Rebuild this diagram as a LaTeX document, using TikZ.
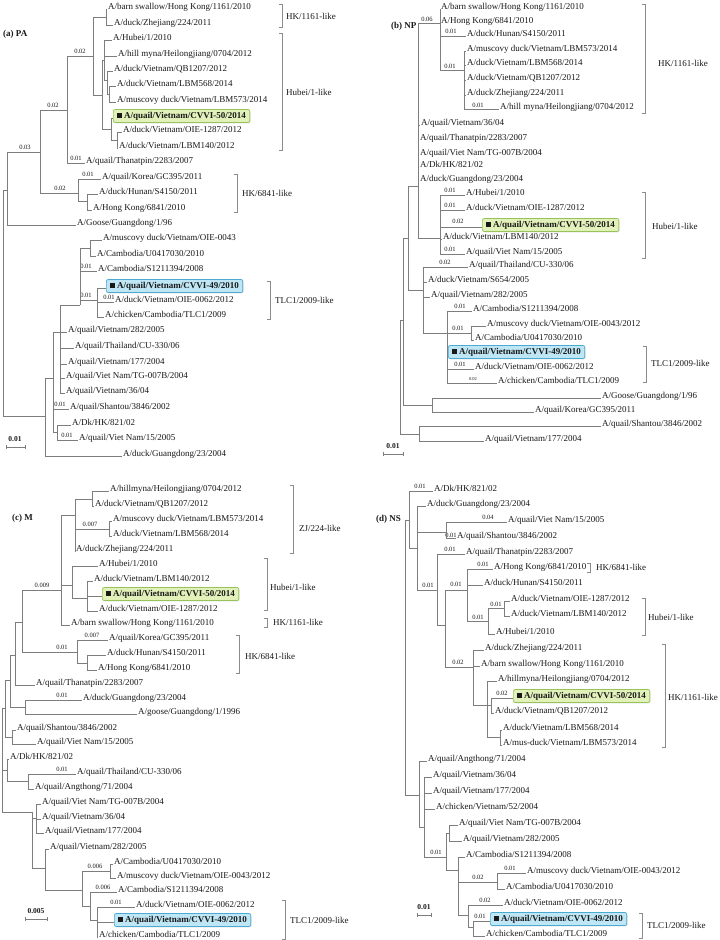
\documentclass[tikz,border=0pt]{standalone}
\usepackage{fontspec}
\setmainfont{Liberation Serif}
\usetikzlibrary{shadows}
\definecolor{brc}{RGB}{125,125,125}
\definecolor{bkc}{RGB}{140,140,140}
\definecolor{txt}{RGB}{25,25,25}
\definecolor{gfill}{RGB}{226,241,186}
\definecolor{gline}{RGB}{150,196,90}
\definecolor{bfill}{RGB}{190,230,245}
\definecolor{bline}{RGB}{75,170,210}
\newcounter{nn}
\newcommand\Lf[4]{\draw[br] (#1,#3)--(#2-0.6,#3); \stepcounter{nn}\node[lf] (n\arabic{nn}) at (#2,#3) {#4};}
\newcommand\Vl[3]{\draw[br] (#1,#2)--(#1,#3);}
\newcommand\Hl[3]{\draw[br] (#1,#3)--(#2,#3);}
\newcommand\Bl[3]{\stepcounter{nn}\node[bl] (n\arabic{nn}) at (#1,#2) {#3};}
\newcommand\Bk[6]{\draw[bk] (#1-3,#2)--(#1,#2)--(#1,#3)--(#1-3,#3); \stepcounter{nn}\node[bkl] (n\arabic{nn}) at (#4,#5) {#6};}
\newcommand\Bx[5]{\draw[br] (#1,#3)--(#2,#3); \stepcounter{nn}\node[#5] (n\arabic{nn}) at (#2,#3-2) {\raisebox{0.3pt}{\rule{4.5pt}{4.5pt}}\ #4};}
\newcommand\Sc[5]{\stepcounter{nn}\node[scl] (n\arabic{nn}) at (#1,#2) {#3}; \draw[br] (#4,#2+8)--(#5,#2+8); \draw[br] (#4,#2+6)--(#4,#2+10); \draw[br] (#5,#2+6)--(#5,#2+10);}
\tikzset{
 br/.style={draw=brc, line width=0.6pt},
 bk/.style={draw=bkc, line width=0.6pt},
 lf/.style={anchor=base west, inner sep=0pt, font=\fontsize{9}{10}\selectfont, text=txt},
 bl/.style={inner sep=0pt, font=\fontsize{6.5}{7}\selectfont, text=txt},
 blt/.style={inner sep=0pt, font=\fontsize{4.5}{5}\selectfont, text=txt},
 pl/.style={anchor=base west, inner sep=0pt, font=\bfseries\fontsize{9}{10}\selectfont, text=txt},
 scl/.style={inner sep=0pt, font=\bfseries\fontsize{7.5}{8}\selectfont, text=txt},
 bkl/.style={anchor=west, inner sep=0pt, font=\fontsize{9}{10}\selectfont, text=txt},
 gbox/.style={anchor=west, rounded corners=2pt, fill=gfill, draw=gline, line width=0.7pt, inner xsep=4pt, inner ysep=2.5pt, minimum height=13pt, font=\bfseries\fontsize{9}{10}\selectfont, text=txt, drop shadow={opacity=0.25, shadow xshift=0.8pt, shadow yshift=-0.8pt}},
 bbox/.style={gbox, fill=bfill, draw=bline}
}
\begin{document}
\begin{tikzpicture}[x=1pt,y=-1pt]
\useasboundingbox[fill=white] (0,0) rectangle (720,940);
% ================= (a) PA =================
\node[pl] (pa) at (3,36) {(a) PA};
\Lf{106}{108}{9}{A/barn swallow/Hong Kong/1161/2010}
\Lf{106}{114}{25}{A/duck/Zhejiang/224/2011}
\Vl{106}{9}{25}
\Hl{93}{106}{17}
\Lf{104}{113}{40}{A/Hubei/1/2010}
\Lf{104}{118}{56}{A/hill myna/Heilongjiang/0704/2012}
\Vl{104}{40}{80}\Hl{104}{107}{80}
\Lf{107}{114}{71}{A/duck/Vietnam/QB1207/2012}
\Vl{107}{71}{94}\Hl{107}{109}{94}
\Lf{109}{117}{86}{A/duck/Vietnam/LBM568/2014}
\Lf{109}{117}{102}{A/muscovy duck/Vietnam/LBM573/2014}
\Vl{109}{86}{102}
\Bx{111}{113}{118}{A/quail/Vietnam/CVVI-50/2014}{gbox}
\Lf{117}{123}{132}{A/duck/Vietnam/OIE-1287/2012}
\Lf{117}{119}{148}{A/duck/Vietnam/LBM140/2012}
\Vl{117}{132}{148}\Hl{111}{117}{140}
\Vl{111}{118}{140}\Hl{102}{111}{129}
\Vl{102}{60}{129}\Hl{102}{104}{60}
\Vl{93}{17}{95}\Hl{93}{102}{95}
\Hl{67}{93}{56}\Bl{80}{51}{0.02}
\Lf{67}{86}{163}{A/quail/Thanatpin/2283/2007}\Bl{76}{158}{0.01}
\Vl{67}{56}{163}
\Hl{40}{67}{110}\Bl{53}{105}{0.02}
\Lf{78}{102}{179}{A/quail/Korea/GC395/2011}\Bl{88}{174}{0.01}
\Lf{87}{99}{194}{A/duck/Hunan/S4150/2011}
\Lf{87}{93}{210}{A/Hong Kong/6841/2010}
\Vl{87}{194}{210}\Hl{78}{87}{201}
\Vl{78}{179}{201}
\Hl{40}{78}{193}\Bl{60}{188}{0.02}
\Vl{40}{110}{193}
\Hl{7}{40}{152}\Bl{25}{147}{0.03}
\Lf{7}{77}{225}{A/Goose/Guangdong/1/96}
\Vl{7}{152}{225}
\Hl{3}{7}{190}
\Vl{3}{190}{416}\Hl{3}{45}{416}
\Lf{90}{103}{240}{A/muscovy duck/Vietnam/OIE-0043}
\Lf{90}{97}{256}{A/Cambodia/U0417030/2010}
\Vl{90}{240}{256}\Hl{80}{90}{248}
\Lf{80}{98}{271}{A/Cambodia/S1211394/2008}\Bl{86}{266}{0.01}
\Bx{97}{106}{288}{A/quail/Vietnam/CVVI-49/2010}{bbox}
\Lf{97}{115}{302}{A/duck/Vietnam/OIE-0062/2012}\Bl{109}{297}{0.01}
\Lf{97}{105}{317}{A/chicken/Cambodia/TLC1/2009}
\Vl{97}{288}{317}\Hl{80}{97}{300}\Bl{86}{295}{0.01}
\Vl{80}{248}{305}
\Hl{60}{80}{305}
\Vl{60}{305}{393}
\Lf{60}{68}{332}{A/quail/Vietnam/282/2005}
\Lf{60}{75}{348}{A/quail/Thailand/CU-330/06}
\Lf{60}{68}{364}{A/quail/Vietnam/177/2004}
\Lf{60}{66}{378}{A/quail/Viet Nam/TG-007B/2004}
\Lf{60}{66}{393}{A/quail/Vietnam/36/04}
\Hl{53}{60}{332}
\Vl{53}{332}{432}
\Lf{53}{70}{409}{A/quail/Shantou/3846/2002}\Bl{60}{404}{0.01}
\Lf{57}{72}{425}{A/Dk/HK/821/02}
\Lf{57}{79}{440}{A/quail/Viet Nam/15/2005}\Bl{67}{435}{0.01}
\Vl{57}{425}{440}\Hl{53}{57}{432}
\Hl{45}{53}{378}
\Lf{45}{123}{456}{A/duck/Guangdong/23/2004}
\Vl{45}{378}{456}
\Sc{15}{439}{0.01}{6}{25}
\Bk{282}{4}{27}{286}{16}{HK/1161-like}
\Bk{282}{33}{150}{286}{92}{Hubei/1-like}
\Bk{237}{174}{212}{242}{193}{HK/6841-like}
\Bk{270}{281}{319}{275}{300}{TLC1/2009-like}
% ================= (b) NP =================
\node[pl] (pb) at (391,28) {(b) NP};
\Lf{440}{441}{9}{A/barn swallow/Hong Kong/1161/2010}
\Lf{440}{441}{23}{A/Hong Kong/6841/2010}
\Lf{440}{467}{36}{A/duck/Hunan/S4150/2011}\Bl{451}{31}{0.01}
\Lf{464}{467}{51}{A/muscovy duck/Vietnam/LBM573/2014}
\Lf{464}{467}{65}{A/duck/Vietnam/LBM568/2014}
\Lf{464}{467}{80}{A/duck/Vietnam/QB1207/2012}
\Lf{464}{467}{95}{A/duck/Zhejiang/224/2011}
\Lf{464}{500}{109}{A/hill myna/Heilongjiang/0704/2012}\Bl{478}{105}{0.01}
\Vl{464}{51}{109}\Hl{440}{464}{70}\Bl{450}{66}{0.01}
\Vl{440}{9}{70}
\Hl{418}{440}{23}\Bl{427}{19}{0.06}
\Lf{418}{421}{125}{A/quail/Vietnam/36/04}
\Lf{418}{420}{140}{A/quail/Thanatpin/2283/2007}
\Lf{418}{420}{155}{A/quail/Viet Nam/TG-007B/2004}
\Lf{418}{420}{167}{A/Dk/HK/821/02}
\Lf{418}{420}{181}{A/duck/Guangdong/23/2004}
\Vl{418}{23}{238}\Hl{418}{440}{238}
\Lf{440}{466}{195}{A/Hubei/1/2010}\Bl{450}{190}{0.01}
\Lf{440}{466}{210}{A/duck/Vietnam/OIE-1287/2012}\Bl{450}{205}{0.01}
\Bx{440}{482}{227}{A/quail/Vietnam/CVVI-50/2014}{gbox}\Bl{458}{221}{0.02}
\Lf{440}{443}{239}{A/duck/Vietnam/LBM140/2012}
\Lf{440}{466}{254}{A/quail/Viet Nam/15/2005}\Bl{450}{249}{0.01}
\Vl{440}{195}{254}
\Hl{408}{418}{186}\Vl{408}{186}{290}\Hl{408}{423}{290}
\Lf{423}{469}{267}{A/quail/Thailand/CU-330/06}\Bl{445}{262}{0.02}
\Lf{423}{428}{282}{A/duck/Vietnam/S654/2005}
\Lf{423}{431}{297}{A/quail/Vietnam/282/2005}
\Vl{423}{267}{333}\Hl{423}{447}{333}
\Lf{447}{473}{311}{A/Cambodia/S1211394/2008}\Bl{460}{306}{0.01}
\Lf{471}{487}{326}{A/muscovy duck/Vietnam/OIE-0043/2012}
\Lf{471}{475}{340}{A/Cambodia/U0417030/2010}
\Vl{471}{326}{340}\Hl{447}{471}{333}\Bl{458}{328}{0.01}
\Bx{447}{448}{354}{A/quail/Vietnam/CVVI-49/2010}{bbox}
\Lf{447}{475}{369}{A/duck/Vietnam/OIE-0062/2012}\Bl{460}{364}{0.01}
\Lf{447}{498}{383}{A/chicken/Cambodia/TLC1/2009}
\stepcounter{nn}\node[blt] (n\arabic{nn}) at (473,379) {0.02};
\Vl{447}{311}{383}
\Hl{403}{408}{238}\Vl{403}{238}{405}\Hl{403}{432}{405}
\Lf{432}{602}{398}{A/Goose/Guangdong/1/96}
\Lf{432}{535}{412}{A/quail/Korea/GC395/2011}
\Vl{432}{398}{412}
\Hl{400}{403}{320}\Vl{400}{320}{434}\Hl{400}{419}{434}
\Lf{419}{602}{426}{A/quail/Shantou/3846/2002}
\Lf{419}{485}{441}{A/quail/Vietnam/177/2004}
\Vl{419}{426}{441}
\Sc{393}{446}{0.01}{383}{403}
\Bk{645}{4}{113}{658}{63}{HK/1161-like}
\Bk{645}{192}{258}{652}{226}{Hubei/1-like}
\Bk{646}{346}{382}{651}{363}{TLC1/2009-like}
% ================= (c) M =================
\node[pl] (pc) at (12,520) {(c) M};
\Lf{92}{110}{491}{A/hillmyna/Heilongjiang/0704/2012}
\Lf{92}{95}{506}{A/duck/Vietnam/QB1207/2012}
\Vl{92}{491}{506}
\Lf{109}{113}{521}{A/muscovy duck/Vietnam/LBM573/2014}
\Lf{109}{113}{536}{A/duck/Vietnam/LBM568/2014}
\Vl{109}{521}{536}
\Lf{75}{76}{551}{A/duck/Zhejiang/224/2011}
\Vl{75}{499}{551}\Hl{75}{92}{499}\Hl{75}{109}{529}\Bl{90}{524}{0.007}
\Lf{72}{99}{566}{A/Hubei/1/2010}
\Lf{87}{94}{581}{A/duck/Vietnam/LBM140/2012}
\Bx{87}{102}{596}{A/quail/Vietnam/CVVI-50/2014}{gbox}
\Lf{87}{99}{611}{A/duck/Vietnam/OIE-1287/2012}
\Vl{87}{581}{611}
\Vl{72}{566}{598}\Hl{72}{87}{598}
\Lf{61}{71}{625}{A/barn swallow/Hong Kong/1161/2010}
\Hl{61}{75}{515}\Vl{61}{515}{625}
\Hl{61}{72}{585}
\Hl{22}{61}{590}\Bl{42}{585}{0.009}
\Lf{77}{109}{640}{A/quail/Korea/GC395/2011}\Bl{92}{635}{0.007}
\Lf{87}{107}{655}{A/duck/Hunan/S4150/2011}
\Lf{87}{98}{670}{A/Hong Kong/6841/2010}
\Vl{87}{655}{670}\Hl{77}{87}{663}
\Vl{77}{640}{663}
\Hl{22}{77}{652}\Bl{62}{647}{0.01}
\Vl{22}{590}{652}
\Hl{15}{22}{622}
\Lf{15}{36}{685}{A/quail/Thanatpin/2283/2007}
\Vl{15}{622}{685}
\Lf{25}{83}{700}{A/duck/Guangdong/23/2004}\Bl{62}{695}{0.01}
\Lf{25}{138}{714}{A/goose/Guangdong/1/1996}
\Vl{25}{700}{714}
\Hl{10}{15}{655}\Hl{10}{25}{707}\Vl{10}{655}{707}
\Lf{12}{17}{730}{A/quail/Shantou/3846/2002}
\Lf{12}{37}{744}{A/quail/Viet Nam/15/2005}
\Vl{12}{730}{744}
\Hl{5}{10}{680}\Hl{5}{12}{737}\Vl{5}{680}{737}
\Lf{7}{10}{759}{A/Dk/HK/821/02}
\Lf{28}{77}{774}{A/quail/Thailand/CU-330/06}\Bl{62}{769}{0.01}
\Lf{28}{35}{789}{A/quail/Angthong/71/2004}
\Vl{28}{774}{789}
\Hl{7}{28}{781}\Vl{7}{759}{781}
\Hl{2}{5}{708}\Hl{2}{7}{770}\Vl{2}{708}{812}\Hl{2}{32}{812}
\Lf{36}{42}{804}{A/quail/Viet Nam/TG-007B/2004}
\Lf{36}{42}{819}{A/quail/Vietnam/36/04}
\Lf{36}{45}{833}{A/quail/Vietnam/177/2004}
\Vl{36}{804}{833}
\Hl{32}{36}{818}\Vl{32}{812}{868}\Hl{32}{45}{868}
\Lf{45}{50}{849}{A/quail/Vietnam/282/2005}
\Vl{45}{849}{890}\Hl{45}{82}{890}
\Lf{110}{114}{864}{A/Cambodia/U0417030/2010}
\Lf{110}{117}{878}{A/muscovy duck/Vietnam/OIE-0043/2012}
\Vl{110}{864}{878}
\Hl{82}{110}{871}\Bl{95}{866}{0.006}
\Vl{82}{871}{906}\Hl{82}{90}{906}
\Lf{90}{118}{892}{A/Cambodia/S1211394/2008}\Bl{103}{887}{0.006}
\Vl{90}{892}{920}\Hl{90}{97}{920}
\Lf{97}{136}{907}{A/duck/Vietnam/OIE-0062/2012}\Bl{116}{902}{0.01}
\Bx{97}{114}{922}{A/quail/Vietnam/CVVI-49/2010}{bbox}
\Lf{97}{99}{937}{A/chicken/Cambodia/TLC1/2009}
\Vl{97}{907}{937}
\Sc{36}{911}{0.005}{25}{47}
\Bk{293}{485}{553}{299}{528}{ZJ/224-like}
\Bk{267}{558}{610}{270}{587}{Hubei/1-like}
\Bk{267}{618}{627}{273}{622}{HK/1161-like}
\Bk{239}{635}{673}{245}{656}{HK/6841-like}
\Bk{285}{900}{939}{290}{920}{TLC1/2009-like}
% ================= (d) NS =================
\node[pl] (pd) at (376,521) {(d) NS};
\Lf{409}{434}{491}{A/Dk/HK/821/02}\Bl{420}{486}{0.01}
\Vl{409}{491}{548}\Hl{409}{417}{548}
\Hl{405}{409}{520}
\Lf{417}{427}{506}{A/duck/Guangdong/23/2004}
\Lf{446}{508}{522}{A/quail/Viet Nam/15/2005}\Bl{488}{517}{0.04}
\Lf{446}{457}{538}{A/quail/Shantou/3846/2002}\Bl{451}{535}{0.01}
\Vl{446}{522}{538}\Hl{417}{446}{532}
\Vl{417}{506}{590}\Hl{417}{437}{590}\Bl{428}{585}{0.01}
\Lf{437}{466}{554}{A/quail/Thanatpin/2283/2007}\Bl{450}{549}{0.01}
\Vl{437}{554}{625}\Hl{437}{445}{625}
\Lf{467}{494}{569}{A/Hong Kong/6841/2010}\Bl{483}{564}{0.01}
\Lf{467}{484}{585}{A/duck/Hunan/S4150/2011}
\Lf{504}{511}{601}{A/duck/Vietnam/OIE-1287/2012}
\Lf{504}{511}{616}{A/duck/Vietnam/LBM140/2012}
\Vl{504}{601}{616}
\Hl{488}{504}{608}\Bl{496}{604}{0.01}
\Lf{488}{496}{634}{A/Hubei/1/2010}
\Vl{488}{608}{634}
\Hl{467}{488}{621}\Bl{478}{617}{0.01}
\Vl{467}{569}{621}
\Hl{445}{467}{590}\Bl{456}{584}{0.01}
\Vl{445}{590}{667}\Hl{445}{473}{667}\Bl{458}{662}{0.02}
\Lf{473}{485}{650}{A/duck/Zhejiang/224/2011}
\Lf{473}{481}{666}{A/barn swallow/Hong Kong/1161/2010}
\Vl{473}{650}{705}\Hl{473}{487}{705}
\Lf{487}{498}{681}{A/hillmyna/Heilongjiang/0704/2012}
\Bx{491}{513}{698}{A/quail/Vietnam/CVVI-50/2014}{gbox}\Bl{502}{693}{0.02}
\Lf{491}{495}{713}{A/duck/Vietnam/QB1207/2012}
\Vl{491}{698}{713}\Hl{487}{491}{705}
\Lf{500}{503}{730}{A/duck/Vietnam/LBM568/2014}
\Lf{500}{503}{745}{A/mus-duck/Vietnam/LBM573/2014}
\Vl{500}{730}{745}\Hl{487}{500}{737}
\Vl{487}{681}{737}
\Vl{405}{520}{795}\Hl{405}{419}{795}
\Lf{419}{428}{761}{A/quail/Angthong/71/2004}
\Vl{419}{761}{827}\Hl{419}{424}{827}
\Lf{424}{433}{777}{A/quail/Vietnam/36/04}
\Lf{424}{433}{793}{A/quail/Vietnam/177/2004}
\Lf{424}{436}{809}{A/chicken/Vietnam/52/2004}
\Vl{424}{777}{857}\Hl{424}{446}{857}\Bl{436}{852}{0.01}
\Lf{449}{459}{825}{A/quail/Viet Nam/TG-007B/2004}
\Lf{449}{463}{841}{A/quail/Vietnam/282/2005}
\Vl{449}{825}{841}\Hl{446}{449}{833}
\Vl{446}{833}{870}\Hl{446}{458}{870}
\Lf{458}{466}{857}{A/Cambodia/S1211394/2008}
\Vl{458}{857}{915}
\Lf{497}{527}{873}{A/muscovy duck/Vietnam/OIE-0043/2012}\Bl{510}{868}{0.01}
\Lf{497}{506}{889}{A/Cambodia/U0417030/2010}
\Vl{497}{873}{889}
\Hl{458}{497}{882}\Bl{478}{877}{0.02}
\Hl{458}{468}{915}
\Lf{468}{504}{905}{A/duck/Vietnam/OIE-0062/2012}\Bl{485}{900}{0.02}
\Vl{468}{905}{927}\Hl{468}{473}{927}
\Bx{473}{490}{921}{A/quail/Vietnam/CVVI-49/2010}{bbox}\Bl{480}{916}{0.01}
\Lf{473}{486}{936}{A/chicken/Cambodia/TLC1/2009}
\Vl{473}{921}{936}
\Sc{424}{907}{0.01}{417}{431}
\Bk{590}{563}{572}{596}{567}{HK/6841-like}
\Bk{645}{598}{635}{648}{617}{Hubei/1-like}
\Bk{665}{644}{747}{668}{697}{HK/1161-like}
\Bk{642}{913}{938}{647}{925}{TLC1/2009-like}
\end{tikzpicture}
\end{document}
